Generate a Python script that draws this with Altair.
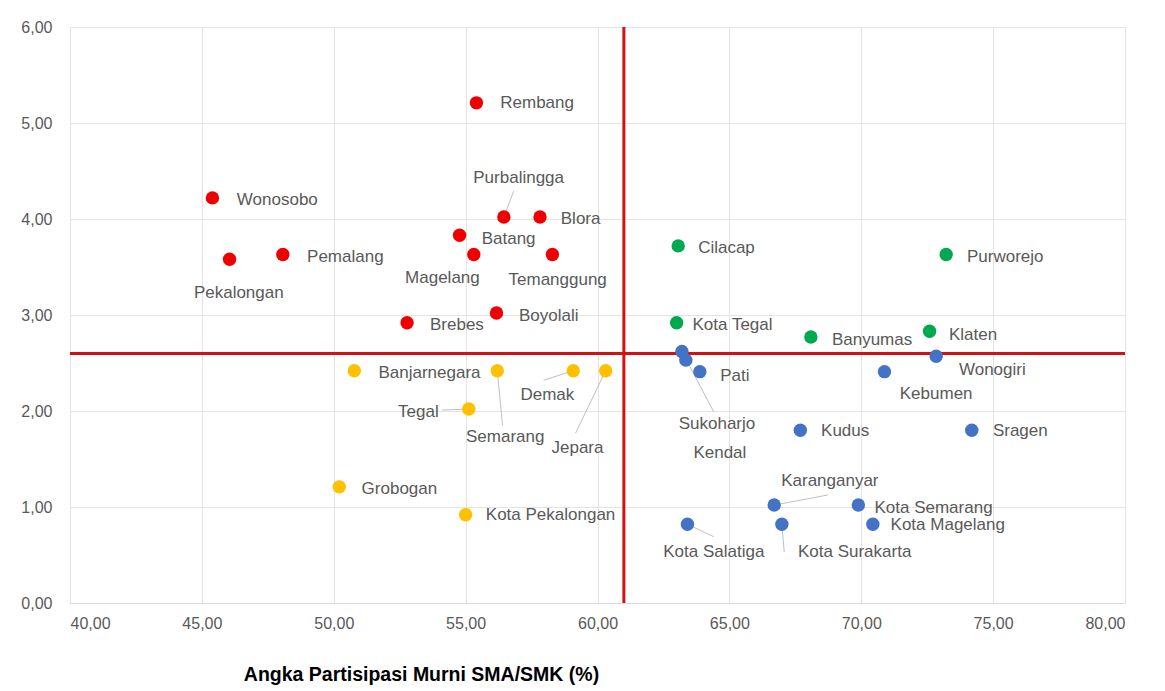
import altair as alt
import pandas as pd

# ---- data ----
names = ["Rembang", "Wonosobo", "Pemalang", "Pekalongan", "Purbalingga", "Blora",
         "Batang", "Magelang", "Temanggung", "Brebes", "Boyolali",
         "Cilacap", "Purworejo", "Kota Tegal", "Banyumas", "Klaten",
         "Sukoharjo", "Kendal", "Pati", "Wonogiri", "Kebumen", "Kudus", "Sragen",
         "Karanganyar", "Kota Semarang", "Kota Salatiga", "Kota Surakarta", "Kota Magelang",
         "Banjarnegara", "Semarang", "Demak", "Jepara", "Tegal", "Grobogan", "Kota Pekalongan"]

apm_sma = [55.41, 45.40, 48.07, 46.05, 56.45, 57.82,
           54.77, 55.31, 58.29, 52.78, 56.17,
           63.06, 73.22, 63.00, 68.09, 72.59,
           63.20, 63.35, 63.88, 72.84, 70.88, 67.69, 74.19,
           66.70, 69.89, 63.41, 66.99, 70.44,
           50.78, 56.20, 59.08, 60.31, 55.12, 50.21, 55.00]

y_values = [5.21, 4.22, 3.63, 3.58, 4.02, 4.02,
            3.83, 3.63, 3.63, 2.92, 3.02,
            3.72, 3.63, 2.92, 2.77, 2.83,
            2.62, 2.53, 2.41, 2.57, 2.41, 1.80, 1.80,
            1.02, 1.02, 0.82, 0.82, 0.82,
            2.42, 2.42, 2.42, 2.42, 2.02, 1.21, 0.92]

groups = (["I"] * 11) + (["II"] * 5) + (["III"] * 12) + (["IV"] * 7)

# label anchor (centre of text) in axis units
label_x = [57.71, 47.86, 50.44, 46.40, 57.01, 59.36,
           56.63, 54.12, 58.49, 54.67, 58.15,
           64.89, 75.46, 65.12, 70.41, 74.24,
           64.53, 64.64, 65.21, 74.97, 72.84, 69.39, 76.03,
           68.81, 72.74, 64.41, 69.75, 73.28,
           53.63, 56.50, 58.10, 59.24, 53.21, 52.49, 58.22]
label_y = [5.21, 4.20, 3.60, 3.23, 4.43, 4.00,
           3.79, 3.39, 3.36, 2.90, 2.99,
           3.70, 3.60, 2.90, 2.74, 2.79,
           1.86, 1.56, 2.36, 2.43, 2.18, 1.79, 1.79,
           1.27, 0.99, 0.53, 0.53, 0.81,
           2.40, 1.73, 2.17, 1.61, 1.99, 1.19, 0.92]

# leader lines (from point to label)
leader_names = ["Purbalingga", "Sukoharjo", "Semarang", "Demak", "Jepara", "Tegal",
                "Karanganyar", "Kota Salatiga", "Kota Surakarta"]
leader_end_x = [56.82, 64.41, 56.40, 57.96, 59.17, 54.11, 68.73, 64.41, 67.08]
leader_end_y = [4.29, 1.99, 1.85, 2.32, 1.77, 2.01, 1.125, 0.69, 0.53]

ref_x = [61.0]
ref_y = [2.6]

x_ticks = [40, 45, 50, 55, 60, 65, 70, 75, 80]
y_ticks = [0, 1, 2, 3, 4, 5, 6]

group_domain = ["I", "II", "III", "IV"]
group_colors = ["#EE0000", "#00A84F", "#4472C4", "#FFC000"]

# ---- tables ----
df = pd.DataFrame({"nama": names, "apm": apm_sma, "nilai": y_values, "grup": groups,
                   "lx": label_x, "ly": label_y})
lead = pd.DataFrame({"nama": leader_names, "ex": leader_end_x, "ey": leader_end_y})
lead = lead.merge(df[["nama", "apm", "nilai"]], on="nama")

fmt = "replace(format(datum.value, '.2f'), '.', ',')"
xscale = alt.Scale(domain=[40, 80], nice=False, zero=False)
yscale = alt.Scale(domain=[0, 6], nice=False, zero=True)

xaxis = alt.Axis(values=x_ticks, labelExpr=fmt, ticks=False, grid=True,
                 gridColor="#E3E3E3", domainColor="#D9D9D9", labelColor="#595959",
                 labelFontSize=16, labelFont="Liberation Sans", labelPadding=12,
                 title="Angka Partisipasi Murni  SMA/SMK (%)",
                 titleFont="Liberation Sans",
                 titleFontSize=19.5, titleFontWeight="bold", titleColor="#000000",
                 titleX=351, titleY=77, titleAlign="center", titleBaseline="alphabetic")
yaxis = alt.Axis(values=y_ticks, labelExpr=fmt, ticks=False, grid=True,
                 gridColor="#E3E3E3", domain=False, labelColor="#595959",
                 labelFontSize=16, labelFont="Liberation Sans", labelPadding=18,
                 minExtent=52, maxExtent=52, title=None)

base = alt.Chart(df)

points_axes = base.mark_circle(size=180, opacity=1).encode(
    x=alt.X("apm:Q", scale=xscale, axis=xaxis),
    y=alt.Y("nilai:Q", scale=yscale, axis=yaxis),
    color=alt.Color("grup:N", scale=alt.Scale(domain=group_domain, range=group_colors),
                    legend=None),
    tooltip=["nama", "apm", "nilai"],
)

vline = alt.Chart(pd.DataFrame({"x": ref_x})).mark_rule(color="#D41010", strokeWidth=3).encode(
    x=alt.X("x:Q", scale=xscale))
hline = alt.Chart(pd.DataFrame({"y": ref_y})).mark_rule(color="#D41010", strokeWidth=3).encode(
    y=alt.Y("y:Q", scale=yscale))

leaders = alt.Chart(lead).mark_rule(color="#BFBFBF", strokeWidth=1).encode(
    x=alt.X("apm:Q", scale=xscale), y=alt.Y("nilai:Q", scale=yscale),
    x2="ex:Q", y2="ey:Q")

labels = base.mark_text(align="center", baseline="middle", fontSize=17,
                        font="Liberation Sans", color="#595959").encode(
    x=alt.X("lx:Q", scale=xscale), y=alt.Y("ly:Q", scale=yscale), text="nama:N")

chart = alt.layer(vline, hline, leaders, points_axes, labels).properties(
    width=1055, height=576,
    padding={"left": 10, "top": 11, "right": 30, "bottom": 5},
).configure_view(stroke=None).configure(background="#FFFFFF")

chart.save("out.html", embed_options={"renderer": "svg", "actions": False})
